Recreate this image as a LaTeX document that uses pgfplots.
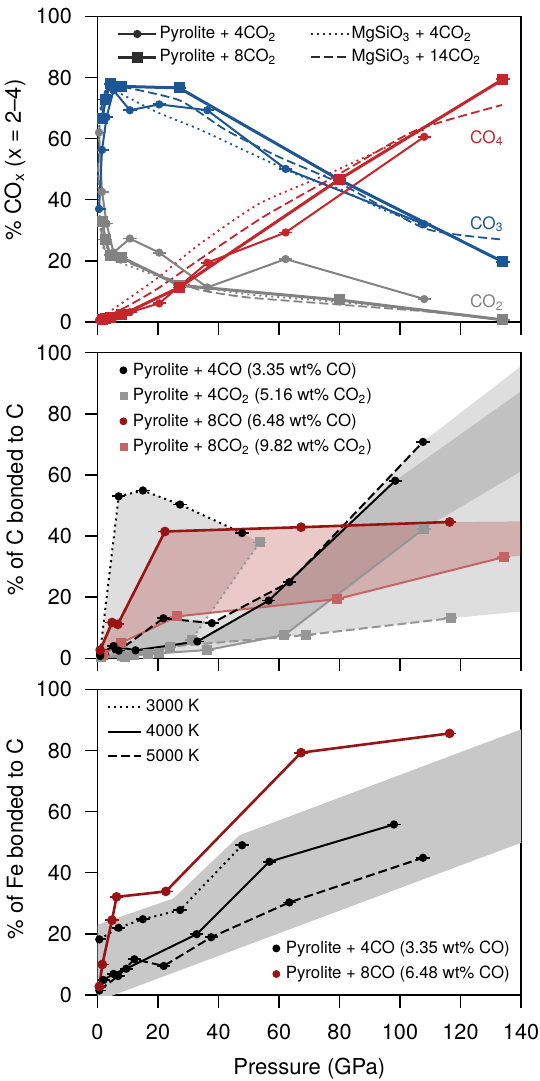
\documentclass[border=0pt]{standalone}
\usepackage{fontspec}
\setmainfont{TeX Gyre Heros}
\usepackage{pgfplots}
\pgfplotsset{compat=1.18}

\definecolor{cblue}{RGB}{28,86,148}
\definecolor{cred}{RGB}{196,38,44}
\definecolor{cgray}{RGB}{130,130,130}
\definecolor{lgray}{RGB}{150,150,150}
\definecolor{dred}{RGB}{152,20,20}
\definecolor{pinkl}{RGB}{196,100,100}
\definecolor{cband}{RGB}{200,200,200}
\definecolor{legc}{RGB}{45,45,45}

\tikzset{plabel/.style={font=\bfseries\fontsize{12}{13}\selectfont, inner sep=0pt, xshift=-45pt}}

\pgfplotsset{
  panel/.style={
    scale only axis, width=211.75pt, height=152.8pt,
    xmin=0, xmax=140, ymin=0, ymax=100,
    xtick={0,20,...,140}, ytick={0,20,...,100},
    tick align=outside, tick pos=left,
    major tick length=6.3pt,
    axis line style={line width=0.7pt},
    tick style={line width=0.7pt, black},
    tick label style={font=\fontsize{10.8}{13}\selectfont},
    yticklabel style={xshift=-3pt},
    xticklabel style={yshift=-5pt},
    label style={font=\fontsize{11}{13}\selectfont},
    /pgf/number format/assume math mode=true,
    legend style={draw=none, fill=none, inner sep=0pt,
      font=\fontsize{8.4}{10}\selectfont,
      nodes={inner sep=1pt, text height=6.8pt, text depth=2pt}},
    legend cell align=left,
  },
  ebar/.style={error bars/x dir=both, error bars/x fixed=2.2,
    error bars/error mark=none,
    error bars/error bar style={solid, line width=0.9pt}},
  dotl/.style={dash pattern=on 1pt off 2pt},
  dashl/.style={dash pattern=on 4.5pt off 2pt},
  circ/.style={mark=*, mark size=1.55pt, mark options={solid}},
  sq/.style={mark=square*, mark size=2pt, mark options={solid}},
}

\begin{document}
\begin{tikzpicture}
\useasboundingbox (-48.75pt,-43pt) rectangle (221.25pt,497.5pt);

% ================= panel a =================
\begin{axis}[panel, at={(0pt,336.5pt)},
  xticklabels={},
  ylabel={\% CO\textsubscript{x} (x = 2–4)},
  ylabel style={at={(axis description cs:-0.195,0.53)}, anchor=center},
  legend columns=2,
  legend style={at={(0.045,0.979)}, anchor=north west, row sep=0.7pt,
    /tikz/every even column/.append style={column sep=16pt}},
  legend image code/.code={\draw[mark repeat=2,mark phase=2,#1] plot coordinates {(0cm,0cm) (0.33cm,0cm) (0.66cm,0cm)};},
]
\addlegendimage{line width=1pt, legc, circ}
\addlegendentry{Pyrolite + 4CO\textsubscript{2}}
\addlegendimage{line width=0.9pt, legc, dotl}
\addlegendentry{MgSiO\textsubscript{3} + 4CO\textsubscript{2}}
\addlegendimage{line width=1.5pt, legc, sq}
\addlegendentry{Pyrolite + 8CO\textsubscript{2}}
\addlegendimage{line width=0.9pt, legc, dashl}
\addlegendentry{MgSiO\textsubscript{3} + 14CO\textsubscript{2}}

% MgSiO3 + 4CO2 (dotted)
\addplot[forget plot, cblue, line width=0.9pt, dotl, smooth, tension=0.35] coordinates {
 (0.2,50) (0.8,68) (2,75) (4,76) (8,74.5) (20,68.5) (33.8,63) (50,55.5) (67.8,47.5) (80,43.5) (95,36.5) (108,32)};
\addplot[forget plot, cred, line width=0.9pt, dotl, smooth, tension=0.35] coordinates {
 (0.2,0.2) (2,2) (10,7.5) (20,14.5) (33.8,25.5) (53.6,38.8) (76.6,48.6) (95,57) (108,63)};
\addplot[forget plot, cgray, line width=0.9pt, dotl, smooth, tension=0.35] coordinates {
 (0.2,50) (0.8,32) (2,24) (4,21) (10,18.5) (20,15) (33.8,11.5) (50,9) (80,6.5) (108,4)};
% MgSiO3 + 14CO2 (dashed)
\addplot[forget plot, cblue, line width=0.9pt, dashl, smooth, tension=0.35] coordinates {
 (0.2,48) (0.8,66) (2,74) (4,77) (8,77) (27.2,72.5) (42.6,62.7) (60,54) (79.9,45.5) (108.5,30.5) (133.7,27)};
\addplot[forget plot, cred, line width=0.9pt, dashl, smooth, tension=0.35] coordinates {
 (0.2,0) (2,1.2) (10,5.2) (20,11) (33.8,20.5) (55,34.5) (80,48.5) (105.2,62.7) (133.7,71)};
\addplot[forget plot, cgray, line width=0.9pt, dashl, smooth, tension=0.35] coordinates {
 (0.2,52) (0.8,34) (2,25) (4,21.5) (10,19.5) (20,15.5) (33.8,10.5) (50,8) (81,5.6) (108,3.5) (133.7,0.7)};

% Pyrolite + 4CO2 (circles)
\addplot[forget plot, cgray, line width=1pt, circ, ebar] coordinates {
 (0.5,62) (1.5,42.6) (3.0,32.2) (5.3,22.7) (10.7,27.3) (20.4,22.7) (36.3,11.3) (62.2,20.6) (108,7.5)};
\addplot[forget plot, cblue, line width=1pt, circ, ebar] coordinates {
 (0.5,37) (1.5,56.3) (3.0,67) (5.3,75.8) (10.7,69.3) (20.4,71.2) (36.3,69.3) (62.2,50.1) (108,32)};
\addplot[forget plot, cred, line width=1pt, circ, ebar] coordinates {
 (0.5,0.6) (1.5,0.8) (3.0,0.9) (5.3,1.5) (10.7,3.2) (20.4,6.1) (36.3,19.4) (62.2,29.3) (108,60.6)};
% Pyrolite + 8CO2 (squares)
\addplot[forget plot, cgray, line width=1.5pt, sq, ebar] coordinates {
 (1.6,33) (2.5,27) (4.2,21.9) (8,21.1) (27,12) (80,7.2) (134,0.7)};
\addplot[forget plot, cblue, line width=1.5pt, sq, ebar] coordinates {
 (1.6,66.6) (2.5,72.8) (4.2,78) (8,77.1) (27,76.6) (80,46.5) (134,19.7)};
\addplot[forget plot, cred, line width=1.5pt, sq, ebar] coordinates {
 (1.6,0.9) (2.5,1.0) (4.2,1.5) (8,2.3) (27,11.3) (80,46.7) (134,79.4)};

\node[cred, font=\fontsize{8.6}{10}\selectfont] at (axis cs:128.7,60.1) {CO\textsubscript{4}};
\node[cblue, font=\fontsize{8.6}{10}\selectfont] at (axis cs:128.7,32) {CO\textsubscript{3}};
\node[cgray, font=\fontsize{8.6}{10}\selectfont] at (axis cs:128.7,6.3) {CO\textsubscript{2}};
\node[plabel, yshift=3.5pt] at (rel axis cs:0,1) {a};
\end{axis}

% ================= panel b =================
\begin{axis}[panel, at={(0pt,168.35pt)},
  xticklabels={},
  ylabel={\% of C bonded to C},
  ylabel style={at={(axis description cs:-0.195,0.52)}, anchor=center},
  legend style={at={(0.052,0.979)}, anchor=north west, row sep=1.95pt,
    /tikz/every odd column/.append style={column sep=2pt}},
  legend image code/.code={\draw[#1] plot coordinates {(0cm,0cm)};},
]
\addlegendimage{black, mark=*, mark size=1.75pt}
\addlegendentry{Pyrolite + 4CO (3.35 wt\% CO)}
\addlegendimage{lgray, mark=square*, mark size=1.75pt}
\addlegendentry{Pyrolite + 4CO\textsubscript{2} (5.16 wt\% CO\textsubscript{2})}
\addlegendimage{dred, mark=*, mark size=1.75pt}
\addlegendentry{Pyrolite + 8CO (6.48 wt\% CO)}
\addlegendimage{pinkl, mark=square*, mark size=1.75pt}
\addlegendentry{Pyrolite + 8CO\textsubscript{2} (9.82 wt\% CO\textsubscript{2})}

% shaded ranges
\addplot[forget plot, fill=black, fill opacity=0.13, draw=none] coordinates {
 (0.9,2.2) (7.0,53.0) (15.0,54.9) (27.3,50.3) (47.8,41.0) (53.6,37.9) (31.1,6.0) (20.2,1.8) (8,0.8) (1,0.5)} -- cycle;
\addplot[forget plot, fill=black, fill opacity=0.13, draw=none] coordinates {
 (0.9,1.5) (5.3,4.0) (12.6,2.6) (33,5.5) (56.6,18.9) (98.4,58.1) (140,87.4) (140,61.2) (107.9,42.4) (61.8,7.6) (36.2,2.7) (16.8,1.4) (9,0.5) (1,0.3)} -- cycle;
\addplot[forget plot, fill=black, fill opacity=0.13, draw=none] coordinates {
 (0.9,0.8) (7,2.5) (21.8,13.1) (37.8,11.5) (63.4,24.9) (107.6,70.8) (140,95.6) (140,15.3) (116.7,13.1) (68.9,7.6) (23.9,3.8) (12,1.2) (1,0.3)} -- cycle;
\addplot[forget plot, fill={rgb,255:red,180;green,40;blue,40}, fill opacity=0.25, draw=none] coordinates {
 (0.9,2.7) (4.8,11.7) (6.7,11.1) (22.3,41.5) (67.3,42.9) (116.4,44.6) (140,44.8) (140,33.6) (134.3,33.1) (79.3,19.4) (26.3,13.7) (7.7,5.0) (1.9,1.1)} -- cycle;

% gray squares (4CO2)
\addplot[forget plot, lgray, line width=1pt, dotl, sq, ebar] coordinates {
 (1,0.5) (8,0.8) (20.2,1.8) (31.1,6.0) (53.6,37.9)};
\addplot[forget plot, lgray, line width=1pt, sq, ebar] coordinates {
 (1,0.3) (9,0.5) (16.8,1.4) (36.2,2.7) (61.8,7.6) (107.9,42.4)};
\addplot[forget plot, lgray, line width=1pt, dashl, sq, ebar] coordinates {
 (1,0.3) (12,1.2) (23.9,3.8) (68.9,7.6) (116.7,13.1)};
% pink squares (8CO2)
\addplot[forget plot, pinkl, line width=1pt, sq, ebar] coordinates {
 (1.9,1.1) (7.7,5.0) (26.3,13.7) (79.3,19.4) (134.3,33.1)};
% black circles (4CO)
\addplot[forget plot, black, line width=1pt, dotl, circ, ebar] coordinates {
 (0.9,2.2) (7.0,53.0) (15.0,54.9) (27.3,50.3) (47.8,41.0)};
\addplot[forget plot, black, line width=1pt, circ, ebar] coordinates {
 (0.9,1.5) (5.3,4.0) (12.6,2.6) (33,5.5) (56.6,18.9) (98.4,58.1)};
\addplot[forget plot, black, line width=1pt, dashl, circ, ebar] coordinates {
 (0.9,0.8) (7,2.5) (21.8,13.1) (37.8,11.5) (63.4,24.9) (107.6,70.8)};
% dark red circles (8CO)
\addplot[forget plot, dred, line width=1.3pt, circ, mark size=1.75pt, ebar] coordinates {
 (0.9,2.7) (4.8,11.7) (6.7,11.1) (22.3,41.5) (67.3,42.9) (116.4,44.6)};

\node[plabel, yshift=4pt] at (rel axis cs:0,1) {b};
\end{axis}

% ================= panel c =================
\begin{axis}[panel, at={(0pt,0pt)},
  xlabel={Pressure (GPa)},
  xlabel style={at={(axis description cs:0.5,-0.24)}, anchor=center},
  ylabel={\% of Fe bonded to C},
  ylabel style={at={(axis description cs:-0.195,0.51)}, anchor=center},
  legend style={at={(0.022,0.98)}, anchor=north west, row sep=1.6pt,
    /tikz/every odd column/.append style={column sep=1pt}},
  legend image code/.code={\draw[#1] (0cm,0cm) -- (0.58cm,0cm);},
]
\addlegendimage{line width=1pt, black, dotl}
\addlegendentry{3000 K}
\addlegendimage{line width=1pt, black}
\addlegendentry{4000 K}
\addlegendimage{line width=1pt, black, dashl}
\addlegendentry{5000 K}

\addplot[forget plot, fill=cband, draw=none] coordinates {
 (0,-2) (0,23) (25.1,31.6) (47,52.3) (140,86.9) (140,49.8)} -- cycle;

\addplot[forget plot, black, line width=1pt, dotl, circ, ebar] coordinates {
 (0.6,18.2) (7.0,22.0) (15.0,24.8) (27.3,27.8) (47.8,49.0)};
\addplot[forget plot, black, line width=1pt, circ, ebar] coordinates {
 (0.6,2.5) (2.0,4.9) (5.3,6.9) (9.5,8.6) (32.8,19.9) (56.8,43.6) (98.0,55.8)};
\addplot[forget plot, black, line width=1pt, dashl, circ, ebar] coordinates {
 (0.6,1.5) (6.8,6.2) (12.2,11.7) (21.9,9.5) (37.6,18.9) (63.4,30.3) (107.6,44.9)};
\addplot[forget plot, dred, line width=1.3pt, circ, mark size=1.75pt, ebar] coordinates {
 (0.6,2.8) (1.6,10.0) (4.8,24.5) (6.3,32.1) (22.6,33.9) (67.3,79.3) (116.4,85.6)};

\node[plabel, yshift=3.3pt] at (rel axis cs:0,1) {c};
\end{axis}

% second legend of panel c
\begin{axis}[panel, at={(0pt,0pt)}, hide axis,
  legend style={at={(0.979,0.032)}, anchor=south east, row sep=2pt,
    /tikz/every odd column/.append style={column sep=2pt}},
  legend image code/.code={\draw[#1] plot coordinates {(0cm,0cm)};},
]
\addlegendimage{black, mark=*, mark size=1.75pt}
\addlegendentry{Pyrolite + 4CO (3.35 wt\% CO)}
\addlegendimage{dred, mark=*, mark size=1.75pt}
\addlegendentry{Pyrolite + 8CO (6.48 wt\% CO)}
\end{axis}
\end{tikzpicture}
\end{document}
